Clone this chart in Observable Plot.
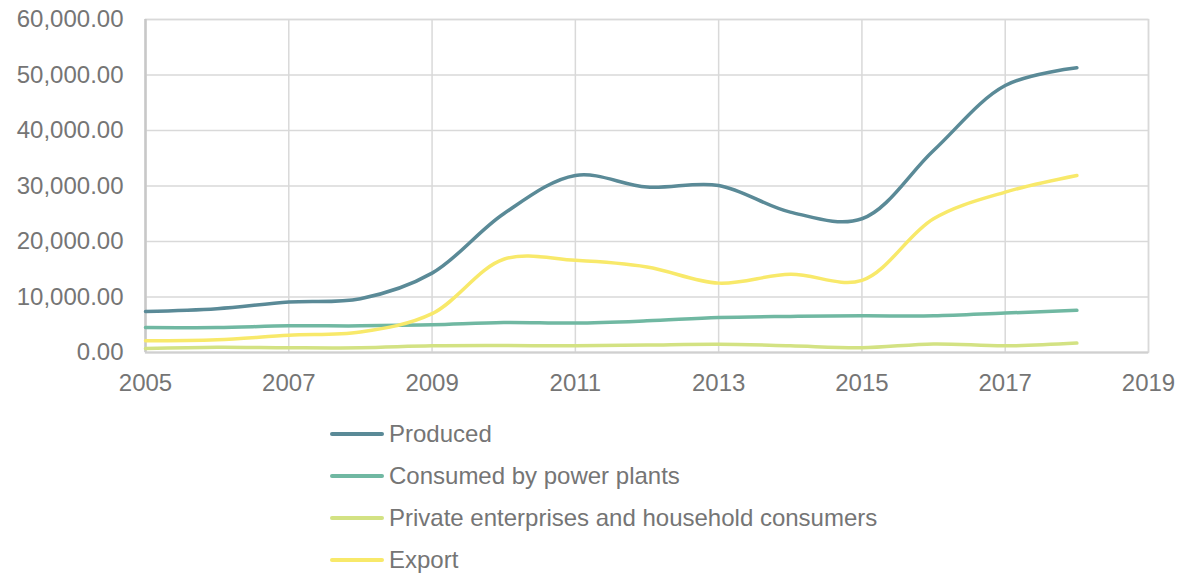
<!DOCTYPE html>
<html>
<head>
<meta charset="utf-8">
<script src="https://cdn.jsdelivr.net/npm/d3@7"></script>
<script src="https://cdn.jsdelivr.net/npm/@observablehq/plot@0.6"></script>
<style>
  html, body { margin: 0; padding: 0; background: #fff; }
  #wrap { position: relative; width: 1186px; height: 576px; font-family: "Liberation Sans", Arial, sans-serif; }
  #legend { position: absolute; left: 330px; top: 413px; }
  .item { display: flex; align-items: center; height: 42px; font-size: 24px; color: #757575; }
  .swatch { width: 54px; height: 3.5px; border-radius: 2px; margin-right: 5px; }
</style>
</head>
<body>
<div id="wrap"><div id="chart"></div><div id="legend"></div></div>
<script>
const years = [2005, 2006, 2007, 2008, 2009, 2010, 2011, 2012, 2013, 2014, 2015, 2016, 2017, 2018];
const seriesNames = ["Produced", "Consumed by power plants", "Private enterprises and household consumers", "Export"];
const produced = [7400, 7900, 9100, 9700, 14300, 25000, 31900, 29800, 30100, 25300, 24100, 36400, 48100, 51300];
const consumedByPowerPlants = [4500, 4500, 4800, 4800, 5000, 5400, 5300, 5700, 6300, 6500, 6600, 6600, 7100, 7600];
const privateConsumers = [700, 950, 850, 850, 1200, 1250, 1200, 1350, 1500, 1200, 850, 1550, 1200, 1700];
const exportValues = [2100, 2300, 3100, 3700, 7000, 16800, 16600, 15400, 12500, 14100, 13000, 24100, 28900, 31900];
const colors = ["#5a8a97", "#70b8a2", "#d3e283", "#f8e96a"];
const xTicks = [2005, 2007, 2009, 2011, 2013, 2015, 2017, 2019];
const yTicks = [0, 10000, 20000, 30000, 40000, 50000, 60000];

const allSeries = [produced, consumedByPowerPlants, privateConsumers, exportValues];
const data = [];
allSeries.forEach((vals, i) => vals.forEach((v, j) => data.push({year: years[j], value: v, series: seriesNames[i]})));

const chart = Plot.plot({
  width: 1186,
  height: 400,
  marginTop: 19,
  marginLeft: 145,
  marginRight: 38,
  marginBottom: 48,
  style: {fontFamily: "Liberation Sans, Arial, sans-serif", fontSize: "24px", color: "#757575", background: "#fff"},
  x: {domain: [2005, 2019], ticks: xTicks, tickFormat: d => String(d), tickSize: 0, tickPadding: 21, label: null},
  y: {domain: [0, 60000], ticks: yTicks, tickFormat: d3.format(",.2f"), tickSize: 0, tickPadding: 22, label: null},
  color: {domain: seriesNames, range: colors},
  marks: [
    Plot.gridX(xTicks, {stroke: "#d9d9d9", strokeOpacity: 1, strokeWidth: 1.5}),
    Plot.gridY(yTicks, {stroke: "#d9d9d9", strokeOpacity: 1, strokeWidth: 1.5}),
    Plot.frame({stroke: "#d9d9d9", strokeWidth: 1.5}),
    Plot.ruleX([2005], {stroke: "#c8c8c8", strokeWidth: 2.5}),
    Plot.ruleY([0], {stroke: "#d0d0d0", strokeWidth: 2}),
    Plot.axisX({ticks: xTicks, tickFormat: d => String(d), tickSize: 0, tickPadding: 21, fontSize: 24, fill: "#757575"}),
    Plot.axisY({ticks: yTicks, tickFormat: d3.format(",.2f"), tickSize: 0, tickPadding: 22, fontSize: 24, fill: "#757575"}),
    Plot.line(data, {x: "year", y: "value", z: "series", stroke: "series", strokeWidth: 3.5, curve: "catmull-rom", strokeLinecap: "round"})
  ]
});
document.getElementById("chart").appendChild(chart);

const legend = document.getElementById("legend");
seriesNames.forEach((name, i) => {
  const row = document.createElement("div");
  row.className = "item";
  const sw = document.createElement("div");
  sw.className = "swatch";
  sw.style.background = colors[i];
  const label = document.createElement("span");
  label.textContent = name;
  row.appendChild(sw);
  row.appendChild(label);
  legend.appendChild(row);
});
</script>
</body>
</html>
